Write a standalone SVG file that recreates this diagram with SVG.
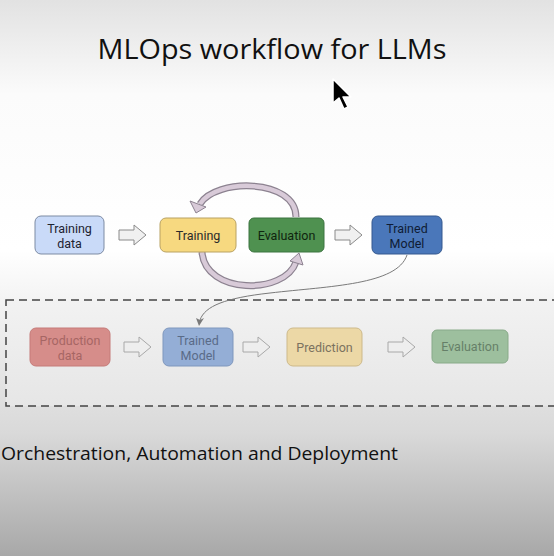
<svg xmlns="http://www.w3.org/2000/svg" width="554" height="556" viewBox="0 0 554 556">
<defs>
<linearGradient id="bg" x1="0" y1="0" x2="0" y2="1">
<stop offset="0" stop-color="#e2e2e2"/>
<stop offset="0.17" stop-color="#fbfbfb"/>
<stop offset="0.45" stop-color="#ffffff"/>
<stop offset="0.56" stop-color="#f1f1f1"/>
<stop offset="0.78" stop-color="#d9d9d9"/>
<stop offset="1" stop-color="#a8a8a8"/>
</linearGradient>
<linearGradient id="boxbg" x1="0" y1="0" x2="0" y2="1">
<stop offset="0" stop-color="#f2f2f2"/>
<stop offset="1" stop-color="#e6e6e6"/>
</linearGradient>
</defs>
<style>
.t{font-family:Roboto,"Liberation Sans",sans-serif;font-size:12.5px;text-anchor:middle}
.big{font-family:"Open Sans","Liberation Sans",sans-serif;fill:#111}
.blk{fill:#f0f0f0;stroke:#8a8a8a;stroke-width:1}
.blk2{fill:#eeeeee;stroke:#a8a8a8;stroke-width:1}
.bandO{fill:none;stroke:#8c8290;stroke-width:7}
.bandI{fill:none;stroke:#d8cad8;stroke-width:4.5}
.head{fill:#d8cad8;stroke:#8c8290;stroke-width:1}
</style>
<rect width="554" height="556" fill="url(#bg)"/>
<text class="big" x="272" y="59" font-size="27" text-anchor="middle" textLength="349" lengthAdjust="spacingAndGlyphs">MLOps workflow for LLMs</text>
<g id="cursor">
<polygon points="333,79 333,103 339,98 344,109 348,107 343,97 351,97" fill="#000" stroke="#fff" stroke-width="1.5" stroke-linejoin="round"/>
</g>
<rect id="deploy-box" x="6" y="300" width="560" height="106" fill="url(#boxbg)" stroke="#444" stroke-width="1.5" stroke-dasharray="8,5"/>
<g id="connectors">
<polygon class="blk" points="119,230 134,230 134,225 146,235 134,245 134,240 119,240"/>
<polygon class="blk" points="335,230 350,230 350,225 362,235 350,245 350,240 335,240"/>
<polygon class="blk2" points="124,342 139,342 139,337 151,347 139,357 139,352 124,352"/>
<polygon class="blk2" points="243,342 258,342 258,337 270,347 258,357 258,352 243,352"/>
<polygon class="blk2" points="388,342 403,342 403,337 415,347 403,357 403,352 388,352"/>
<path d="M407,255 C397,285 330,286 270,293 C225,298 205,306 200,320" fill="none" stroke="#7a7a7a" stroke-width="1"/>
<polygon points="199,326 196,318 200,320 204,318" fill="#7a7a7a"/>
</g>
<g id="loop-top">
<path class="bandO" d="M296,217 C296,178 215,178 200,204"/>
<path class="bandI" d="M296,217 C296,178 215,178 200,204"/>
<polygon class="head" points="196,213 190,201 206,207"/>
</g>
<g id="loop-bottom">
<path class="bandO" d="M202,252 C205,295 285,295 296,262"/>
<path class="bandI" d="M202,252 C205,295 285,295 296,262"/>
<polygon class="head" points="299,253 290,261 303,265"/>
</g>
<g id="training-data">
<rect x="35" y="216" width="69" height="38" rx="6" fill="#c9daf8" stroke="#7d8ba3" stroke-width="1"/>
<text class="t" x="69.5" y="233" fill="#1d2330">Training</text>
<text class="t" x="69.5" y="248" fill="#1d2330">data</text>
</g>
<g id="training">
<rect x="160" y="218" width="76" height="34" rx="6" fill="#f7d980" stroke="#b9a263" stroke-width="1"/>
<text class="t" x="198" y="240" fill="#2a2a2a">Training</text>
</g>
<g id="evaluation">
<rect x="249" y="218" width="75" height="34" rx="5" fill="#4f9150" stroke="#3c7440" stroke-width="1"/>
<text class="t" x="286.5" y="240" fill="#10250f">Evaluation</text>
</g>
<g id="trained-model">
<rect x="372" y="216" width="70" height="38" rx="6" fill="#4a77ba" stroke="#35598f" stroke-width="1"/>
<text class="t" x="407" y="233" fill="#0f1c35">Trained</text>
<text class="t" x="407" y="248" fill="#0f1c35">Model</text>
</g>
<g id="production-data">
<rect x="30" y="328" width="80" height="38" rx="6" fill="#d68d8a" stroke="#c57b79" stroke-width="1"/>
<text class="t" x="70" y="345" fill="#a66664">Production</text>
<text class="t" x="70" y="360" fill="#a66664">data</text>
</g>
<g id="trained-model-2">
<rect x="163" y="328" width="70" height="38" rx="6" fill="#94aed6" stroke="#7f97bd" stroke-width="1"/>
<text class="t" x="198" y="345" fill="#5a6b88">Trained</text>
<text class="t" x="198" y="360" fill="#5a6b88">Model</text>
</g>
<g id="prediction">
<rect x="287" y="328" width="75" height="38" rx="6" fill="#ecd8a6" stroke="#cdb98a" stroke-width="1"/>
<text class="t" x="324.5" y="351.5" fill="#7b725f">Prediction</text>
</g>
<g id="evaluation-2">
<rect x="432" y="330" width="76" height="33" rx="5" fill="#9dbf9e" stroke="#88aa89" stroke-width="1"/>
<text class="t" x="470" y="351" fill="#667f68">Evaluation</text>
</g>
<text class="big" x="1" y="460" font-size="19" textLength="397" lengthAdjust="spacingAndGlyphs">Orchestration, Automation and Deployment</text>
</svg>
